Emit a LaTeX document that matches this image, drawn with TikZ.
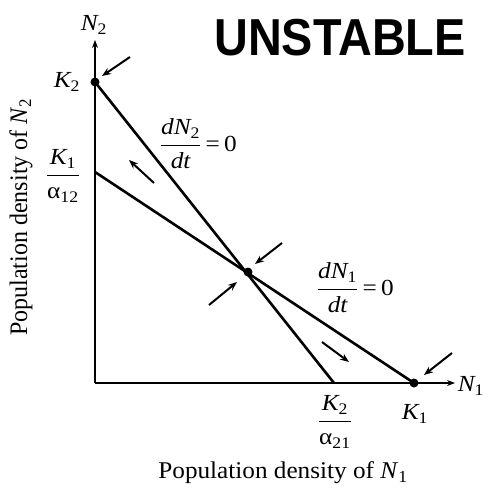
\documentclass[tikz,border=0pt]{standalone}
\usepackage{amsmath}
\usepackage{fontspec}
\setmainfont{Liberation Serif}
\newfontfamily\markerfont{Liberation Sans}
\usepackage{tikz}
\usetikzlibrary{arrows.meta}

\newcommand\var[1]{\textit{#1}}
\newcommand\sub[1]{_{\textup{#1}}}

\tikzset{
  axis/.style={line width=1.2pt},
  isocline/.style={line width=2.6pt},
  flow/.style={line width=2pt, -{Stealth[length=9pt,width=7pt]}},
  eqpt/.style={circle, fill, inner sep=0pt, minimum size=9pt},
  lbl/.style={font=\fontsize{24}{26}\selectfont, xscale=1.05},
  mlbl/.style={font=\fontsize{23}{25}\selectfont, xscale=1.1},
}

\begin{document}
\begin{tikzpicture}[x=1pt, y=-1pt]
    \useasboundingbox (0,0) rectangle (491,490);
    % axes and intercepts
    \coordinate (O) at (95,383);
    \coordinate (ytop) at (95,40);
    \coordinate (xend) at (455,383);
    \coordinate (K2) at (95,82);
    \coordinate (K1a) at (95,172);
    \coordinate (K1) at (414,383);
    \coordinate (K2a) at (334,383);
    \coordinate (E) at (248,272);
    \draw[axis, -{Stealth[length=8pt,width=6pt]}] (O) -- (ytop);
    \draw[axis, -{Stealth[length=8pt,width=6pt]}] (O) -- (xend);
    \draw[isocline] (K2) -- (K2a);
    \draw[isocline] (K1a) -- (K1);
    \node[eqpt] (k2dot) at (K2) {};
    \node[eqpt] (edot) at (E) {};
    \node[eqpt] (k1dot) at (K1) {};
    % labels
    \node[mlbl] (n2) at (94,25) {$\var{N}\sub{2}$};
    \node[mlbl] (n1) at (471,386) {$\var{N}\sub{1}$};
    \node[mlbl] (k2l) at (67,82) {$\var{K}\sub{2}$};
    \node[mlbl] (k1al) at (63,176) {$\dfrac{\var{K}\sub{1}}{\textup{α}\sub{12}}$};
    \node[mlbl] (k2al) at (335,422) {$\dfrac{\var{K}\sub{2}}{\textup{α}\sub{21}}$};
    \node[mlbl] (k1l) at (415,414) {$\var{K}\sub{1}$};
    \node[mlbl, anchor=west] (dn2) at (156,144) {$\dfrac{\var{dN}\sub{2}}{\var{dt}}\textup{\,=\,0}$};
    \node[mlbl, anchor=west] (dn1) at (313,288) {$\dfrac{\var{dN}\sub{1}}{\var{dt}}\textup{\,=\,0}$};
    \node[lbl] (xlab) at (283,473) {Population density of \var{N}\textsubscript{1}};
    \node[lbl, rotate=90] (ylab) at (21,217) {Population density of \var{N}\textsubscript{2}};
    \node[font=\markerfont\bfseries\fontsize{52}{52}\selectfont, xscale=0.9] (unst) at (340,38) {UNSTABLE};
    % trajectories
    \coordinate (a1) at (130,57);   \coordinate (b1) at (102,76);
    \coordinate (a2) at (154,183);  \coordinate (b2) at (129,160);
    \coordinate (a3) at (282,243);  \coordinate (b3) at (255,264);
    \coordinate (a4) at (209,305);  \coordinate (b4) at (237,282);
    \coordinate (a5) at (322,342);  \coordinate (b5) at (349,362);
    \coordinate (a6) at (452,353);  \coordinate (b6) at (424,375);
    \foreach \i in {1,...,6}
        \draw[flow] (a\i) -- (b\i);
\end{tikzpicture}
\end{document}
